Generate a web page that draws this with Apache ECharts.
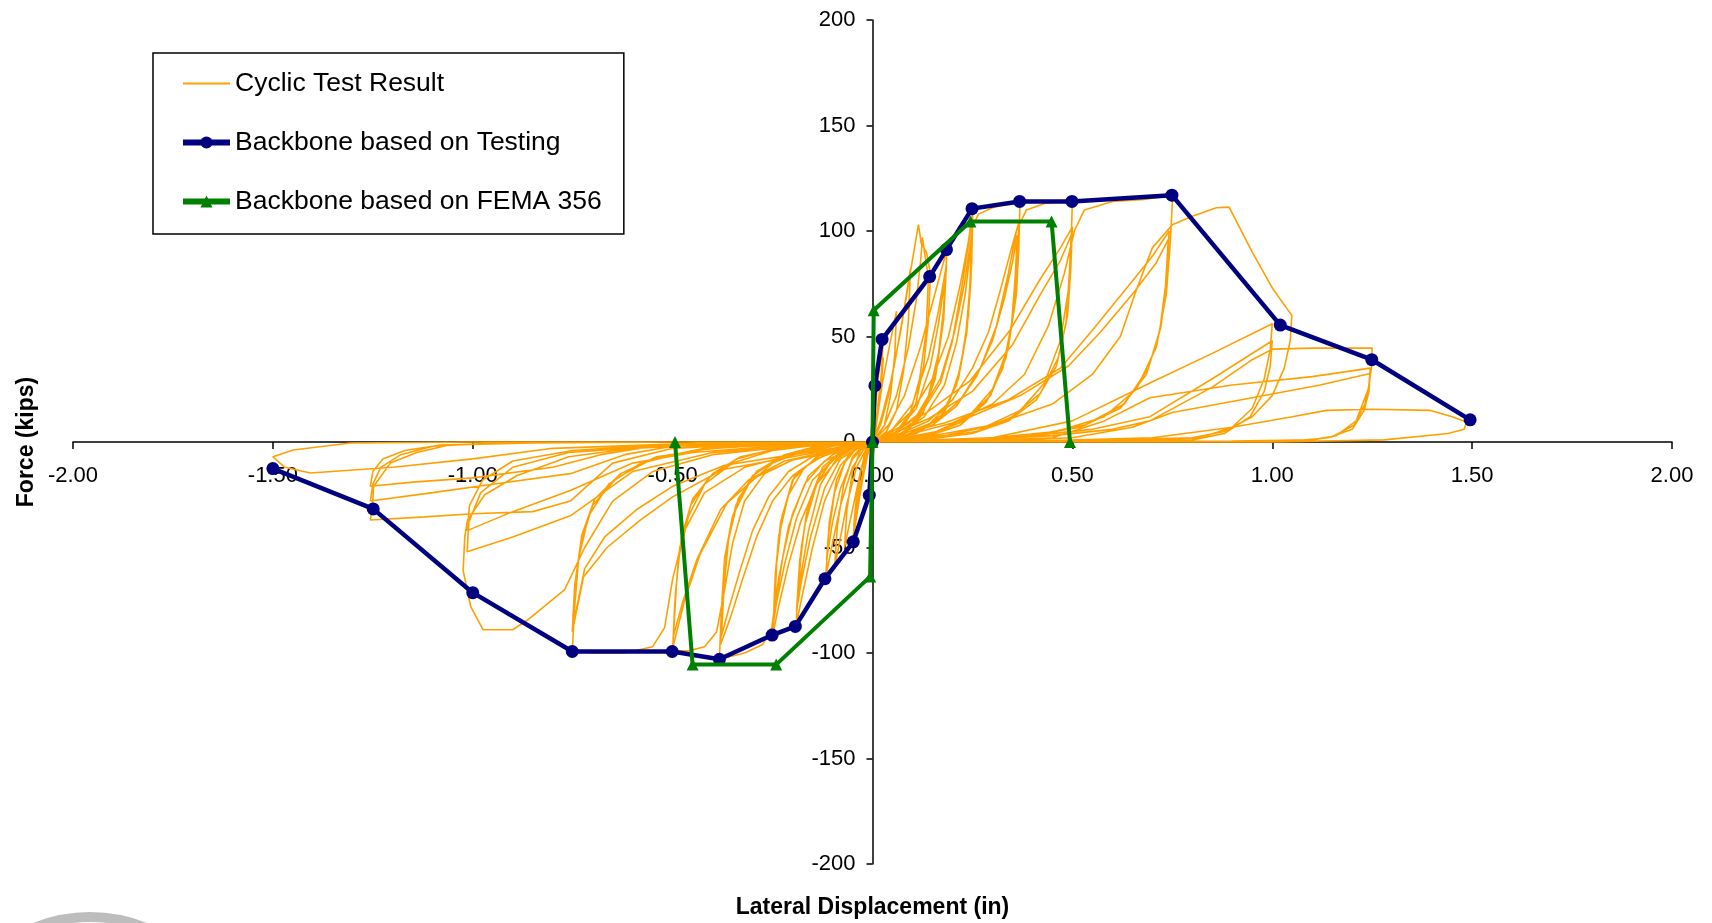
<!DOCTYPE html>
<html>
<head>
<meta charset="utf-8">
<script src="https://cdn.jsdelivr.net/npm/echarts@6/dist/echarts.min.js"></script>
<style>
html,body{margin:0;padding:0;background:#fff;}
#chart{width:1712px;height:923px;}
</style>
</head>
<body>
<div id="chart"></div>
<script>
// ---- Data ----
const xTicks = [-2.0, -1.5, -1.0, -0.5, 0, 0.5, 1.0, 1.5, 2.0];
const yTicks = [-200, -150, -100, -50, 0, 50, 100, 150, 200];

// Backbone based on Testing  [displacement (in), force (kips)]
const backboneTesting = [[-1.50,-12.6],[-1.249,-31.7],[-1.0,-71.4],[-0.751,-99.3],[-0.501,-99.3],[-0.383,-103],
  [-0.251,-91.5],[-0.193,-87.4],[-0.119,-64.8],[-0.048,-47.3],[-0.008,-25.2],[0,0],[0.006,26.7],[0.024,48.6],
  [0.143,78.4],[0.185,91.2],[0.249,110.6],[0.368,114],[0.499,114],[0.749,117],[1.02,55.4],[1.249,39],[1.495,10.5]];

// Backbone based on FEMA 356
const backboneFema = [[-0.494,0],[-0.45,-105.5],[-0.241,-105.5],[-0.006,-63.8],[0,0],[0.003,62.4],
  [0.245,104.5],[0.448,104.5],[0.494,0]];

// Cyclic test result, one array per loop
const a1 = [[0,0],[0.003,12],[0.008,27],[0.005,14],[0.001,3],[-0.003,-8],[-0.008,-25],[-0.005,-12],[-0.001,-2],[0,0]];
const b1 = [[0,0],[0.006,14],[0.014,30],[0.022,42],[0.027,49],[0.022,32],[0.012,12],[0.002,2],[-0.012,-6],[-0.025,-18],
  [-0.038,-33],[-0.049,-47],[-0.042,-30],[-0.028,-12],[-0.01,-2],[0,0]];
const b2 = [[0,0],[0.01,12],[0.02,28],[0.027,40],[0.02,22],[0.008,6],[-0.008,-2],[-0.022,-12],[-0.036,-26],[-0.047,-40],
  [-0.038,-22],[-0.02,-6],[0,0]];
const b3 = [[0,0],[0.01,10],[0.025,28],[0.045,48],[0.06,62],[0.056,42],[0.045,22],[0.03,8],[0.01,2],[-0.01,-3],
  [-0.03,-14],[-0.05,-32],[-0.07,-50],[-0.064,-32],[-0.05,-14],[-0.03,-4],[0,0]];
const b4 = [[0,0],[0.02,8],[0.04,22],[0.06,42],[0.08,64],[0.095,82],[0.09,58],[0.078,34],[0.06,15],[0.035,5],[0.01,1],
  [-0.015,-3],[-0.04,-12],[-0.065,-30],[-0.085,-50],[-0.095,-60],[-0.088,-40],[-0.072,-20],[-0.05,-7],[-0.02,-1],[0,0]];
const c1 = [[0,0],[0.02,10],[0.045,28],[0.07,52],[0.09,75],[0.105,92],[0.115,103],[0.122,94],[0.135,90],[0.145,80],
  [0.14,58],[0.128,36],[0.108,18],[0.08,8],[0.045,3],[0.01,1],[-0.02,-3],[-0.05,-12],[-0.08,-30],[-0.1,-48],[-0.117,-64],
  [-0.11,-44],[-0.095,-24],[-0.07,-10],[-0.04,-3],[0,0]];
const c2 = [[0,0],[0.03,8],[0.06,22],[0.09,45],[0.11,68],[0.12,85],[0.125,97],[0.13,90],[0.14,78],[0.134,52],[0.118,30],
  [0.095,14],[0.06,5],[0.02,1],[-0.02,-2],[-0.05,-8],[-0.08,-22],[-0.1,-38],[-0.115,-56],[-0.108,-38],[-0.09,-18],
  [-0.06,-6],[-0.02,-1],[0,0]];
const d1 = [[0,0],[0.04,8],[0.08,22],[0.12,45],[0.15,66],[0.17,80],[0.186,91],[0.18,66],[0.165,42],[0.14,22],[0.1,9],
  [0.05,3],[0,0],[-0.04,-3],[-0.08,-11],[-0.12,-28],[-0.15,-50],[-0.175,-72],[-0.191,-87],[-0.185,-64],[-0.17,-40],
  [-0.14,-20],[-0.1,-8],[-0.05,-2],[0,0]];
const d2 = [[0,0],[0.05,6],[0.1,18],[0.14,40],[0.165,62],[0.185,84],[0.178,58],[0.16,34],[0.13,16],[0.09,6],[0.04,1],
  [-0.03,-2],[-0.08,-8],[-0.12,-22],[-0.155,-45],[-0.178,-66],[-0.19,-80],[-0.182,-56],[-0.165,-34],[-0.13,-15],
  [-0.08,-5],[-0.03,-1],[0,0]];
const d3 = [[0,0],[0.06,5],[0.11,16],[0.145,36],[0.165,56],[0.182,78],[0.175,54],[0.157,30],[0.125,13],[0.08,4],[0.03,1],
  [-0.04,-2],[-0.09,-8],[-0.13,-20],[-0.16,-42],[-0.178,-62],[-0.186,-74],[-0.178,-50],[-0.16,-29],[-0.125,-12],
  [-0.07,-3],[-0.02,-0.5],[0,0]];
const e1 = [[0,0],[0.05,6],[0.1,15],[0.15,30],[0.19,50],[0.22,75],[0.24,95],[0.251,110],[0.248,85],[0.24,60],[0.22,35],
  [0.19,18],[0.14,8],[0.08,3],[0.02,1],[-0.04,-3],[-0.09,-9],[-0.14,-20],[-0.18,-38],[-0.21,-58],[-0.235,-78],[-0.249,-91],
  [-0.245,-70],[-0.235,-45],[-0.21,-25],[-0.17,-12],[-0.11,-5],[-0.05,-1],[0,0]];
const e2 = [[0,0],[0.06,5],[0.12,14],[0.17,30],[0.205,52],[0.23,75],[0.25,101],[0.246,76],[0.236,52],[0.215,30],
  [0.18,14],[0.12,5],[0.05,1],[-0.03,-1],[-0.09,-7],[-0.15,-18],[-0.19,-36],[-0.22,-58],[-0.24,-76],[-0.248,-86],
  [-0.243,-62],[-0.23,-38],[-0.2,-18],[-0.14,-7],[-0.07,-2],[0,0]];
const e3 = [[0,0],[0.07,4],[0.13,12],[0.18,27],[0.21,47],[0.232,70],[0.248,96],[0.243,72],[0.232,48],[0.21,27],
  [0.17,12],[0.11,4],[0.04,1],[-0.04,-1],[-0.1,-6],[-0.16,-16],[-0.2,-34],[-0.225,-55],[-0.238,-72],[-0.245,-82],
  [-0.24,-58],[-0.226,-35],[-0.195,-16],[-0.13,-6],[-0.06,-1],[0,0]];
const f1 = [[0,0],[0.06,5],[0.12,13],[0.17,28],[0.2,48],[0.225,75],[0.245,100],[0.265,108],[0.3,111],[0.34,113],[0.369,114],
  [0.366,92],[0.36,70],[0.34,45],[0.3,25],[0.24,12],[0.16,5],[0.08,2],[0,0],
  [-0.06,-4],[-0.12,-9],[-0.17,-20],[-0.21,-40],[-0.235,-65],[-0.252,-88],[-0.275,-96],[-0.32,-100],[-0.383,-103],
  [-0.378,-80],[-0.37,-55],[-0.35,-35],[-0.31,-20],[-0.25,-10],[-0.17,-4],[-0.08,-1],[0,0]];
const f2 = [[0,0],[0.07,4],[0.14,10],[0.2,20],[0.25,35],[0.29,52],[0.32,72],[0.345,90],[0.366,104],
  [0.362,84],[0.354,62],[0.334,40],[0.295,22],[0.23,10],[0.15,4],[0.07,1],[0,0],
  [-0.07,-3],[-0.14,-8],[-0.2,-16],[-0.25,-28],[-0.29,-45],[-0.325,-65],[-0.355,-83],[-0.38,-96],
  [-0.374,-72],[-0.364,-50],[-0.342,-30],[-0.3,-16],[-0.23,-7],[-0.15,-3],[-0.07,-1],[0,0]];
const f3 = [[0,0],[0.08,3],[0.15,8],[0.21,17],[0.26,31],[0.3,48],[0.33,68],[0.35,85],[0.362,98],
  [0.357,78],[0.348,56],[0.326,35],[0.285,19],[0.22,8],[0.14,3],[0.06,1],[0,0],
  [-0.08,-3],[-0.15,-7],[-0.21,-14],[-0.26,-26],[-0.3,-42],[-0.33,-60],[-0.358,-78],[-0.378,-92],
  [-0.371,-68],[-0.36,-46],[-0.336,-27],[-0.29,-14],[-0.22,-6],[-0.14,-2],[-0.06,-0.5],[0,0]];
const g1 = [[0,0],[0.08,4],[0.16,10],[0.22,20],[0.27,35],[0.31,55],[0.34,80],[0.36,100],[0.385,110],[0.43,113],[0.47,114],[0.5,114],
  [0.497,95],[0.49,72],[0.47,48],[0.43,28],[0.37,15],[0.28,7],[0.18,3],[0.08,1],[0,0],
  [-0.08,-3.5],[-0.2,-8.5],[-0.27,-15],[-0.32,-28],[-0.35,-48],[-0.37,-70],[-0.39,-90],[-0.42,-97],[-0.46,-99],[-0.5,-99],
  [-0.495,-78],[-0.485,-55],[-0.46,-35],[-0.42,-20],[-0.35,-10],[-0.25,-4],[-0.12,-1],[0,0]];
const g2 = [[0,0],[0.136,14],[0.244,29],[0.344,53],[0.419,77],[0.47,92],[0.5,102],
  [0.496,82],[0.488,60],[0.465,40],[0.42,23],[0.35,12],[0.26,5],[0.15,2],[0.05,0.5],[0,0],
  [-0.08,-4],[-0.2,-8.5],[-0.29,-16.5],[-0.364,-29],[-0.431,-53],[-0.47,-75],[-0.499,-97],
  [-0.493,-72],[-0.482,-50],[-0.455,-30],[-0.41,-17],[-0.34,-8],[-0.24,-3],[-0.12,-1],[0,0]];
const g3 = [[0,0],[0.14,11],[0.25,24],[0.35,46],[0.42,70],[0.47,86],[0.497,98],
  [0.492,78],[0.484,56],[0.46,36],[0.41,20],[0.34,10],[0.25,4],[0.14,1.5],[0.05,0.5],[0,0],
  [-0.1,-4],[-0.22,-9],[-0.31,-18],[-0.38,-32],[-0.44,-56],[-0.475,-76],[-0.498,-92],
  [-0.49,-66],[-0.478,-45],[-0.45,-27],[-0.4,-15],[-0.33,-7],[-0.23,-3],[-0.1,-1],[0,0]];
const h1 = [[0,0],[0.1,4],[0.2,9],[0.3,18],[0.38,32],[0.44,55],[0.48,80],[0.505,100],[0.53,110],[0.6,114],[0.68,115],[0.751,117],
  [0.745,95],[0.735,70],[0.71,45],[0.66,25],[0.58,12],[0.46,5],[0.3,2],[0.1,0.5],[0,0],
  [-0.1,-2],[-0.2,-6],[-0.32,-12],[-0.42,-24],[-0.47,-42],[-0.5,-65],[-0.52,-88],[-0.55,-97],[-0.62,-100],[-0.7,-100],[-0.751,-99],
  [-0.745,-78],[-0.735,-55],[-0.71,-35],[-0.66,-20],[-0.58,-10],[-0.45,-4],[-0.3,-1.5],[-0.1,0],[0,0]];
const h2 = [[0,0],[0.05,3],[0.18,9],[0.34,20],[0.47,35],[0.55,53],[0.636,73],[0.7,88],[0.742,100],
  [0.736,78],[0.722,55],[0.69,35],[0.63,18],[0.53,8],[0.4,3],[0.2,1],[0,0],
  [-0.2,-7],[-0.374,-13],[-0.5,-26],[-0.581,-37],[-0.664,-50],[-0.723,-64],[-0.751,-90],
  [-0.745,-68],[-0.73,-48],[-0.7,-30],[-0.64,-17],[-0.55,-8],[-0.42,-3],[-0.25,-1],[0,0]];
const h3 = [[0,0],[0.1,4],[0.22,10],[0.37,22],[0.49,36],[0.57,52],[0.65,70],[0.71,85],[0.74,96],
  [0.733,74],[0.718,52],[0.685,32],[0.62,16],[0.52,7],[0.38,2.5],[0.2,1],[0,0],
  [-0.2,-6],[-0.37,-11],[-0.5,-21],[-0.59,-32],[-0.67,-45],[-0.72,-60],[-0.748,-86],
  [-0.742,-64],[-0.727,-44],[-0.695,-27],[-0.63,-15],[-0.54,-7],[-0.4,-3],[-0.22,-1],[0,0]];
const i1 = [[0,0],[0.15,3],[0.3,8],[0.45,18],[0.55,32],[0.62,50],[0.66,72],[0.7,92],[0.75,103],[0.8,107],[0.86,111],[0.892,111.3],
  [0.95,90],[1.0,73],[1.049,60],
  [1.045,48],[1.03,35],[1.0,22],[0.95,12],[0.88,5],[0.8,2],[0.6,1],[0.3,0.5],[0,0],
  [-0.2,-2],[-0.4,-6],[-0.55,-14],[-0.65,-28],[-0.72,-50],[-0.77,-70],[-0.86,-84],[-0.9,-89],[-0.974,-89],[-1.005,-78],[-1.024,-61],
  [-1.02,-45],[-1.013,-37],[-0.97,-25],[-0.89,-16],[-0.76,-7],[-0.6,-3],[-0.4,-1],[-0.2,0],[0,0]];
const i2 = [[0,0],[0.15,1],[0.3,2],[0.5,10],[0.694,28],[0.85,42],[1.0,56],
  [0.995,44],[0.98,30],[0.95,16],[0.9,7],[0.82,2],[0.6,0.5],[0.3,0],[0,0],
  [-0.2,-2],[-0.4,-5],[-0.6,-14],[-0.756,-35],[-0.9,-45],[-1.014,-52],
  [-1.01,-38],[-0.98,-24],[-0.9,-12],[-0.76,-5],[-0.5,-1.5],[-0.25,0],[0,0]];
const i3 = [[0,0],[0.2,1],[0.4,3],[0.55,6],[0.694,12],[0.85,30],[1.0,48],
  [0.995,36],[0.98,24],[0.945,12],[0.88,4],[0.8,1],[0.55,0],[0.25,0],[0,0],
  [-0.25,-2],[-0.45,-5],[-0.6,-10],[-0.756,-23],[-0.9,-33],[-1.014,-42],
  [-1.008,-30],[-0.975,-18],[-0.9,-9],[-0.75,-4],[-0.5,-1],[-0.25,0],[0,0]];
const j1 = [[0,0],[0.25,1],[0.45,3],[0.6,6],[0.694,10],[0.85,26],[0.95,39],[1.0,44],[1.1,44.5],[1.18,44.5],[1.25,44.5],
  [1.248,35],[1.24,25],[1.21,10],[1.16,3],[1.1,1],[0.9,0.5],[0.5,0],[0,0],
  [-0.3,-1],[-0.5,-3],[-0.65,-10],[-0.756,-28],[-0.85,-33],[-1.0,-34],[-1.12,-35.5],[-1.256,-37],
  [-1.25,-28],[-1.248,-21],[-1.206,-10],[-1.14,-5],[-1.06,-1.4],[-0.85,-0.5],[-0.5,0],[0,0]];
const j2 = [[0,0],[0.25,0.5],[0.45,2],[0.58,10],[0.694,21],[0.9,27],[1.1,31],[1.245,35],
  [1.242,27],[1.232,18],[1.205,8],[1.15,2.5],[1.08,0.5],[0.8,0],[0.4,0],[0,0],
  [-0.3,-1],[-0.5,-2],[-0.62,-6],[-0.756,-15],[-0.95,-20],[-1.1,-24],[-1.256,-28],
  [-1.25,-20],[-1.23,-12],[-1.18,-6],[-1.1,-2],[-0.95,-0.5],[-0.5,0],[0,0]];
const j3 = [[0,0],[0.3,0.5],[0.5,2],[0.65,7],[0.75,14],[0.95,21],[1.12,27],[1.245,32.5],
  [1.242,24],[1.23,15],[1.2,6],[1.14,2],[1.05,0.5],[0.7,0],[0,0],
  [-0.3,-0.5],[-0.55,-2],[-0.68,-6],[-0.8,-12],[-1.0,-17],[-1.15,-19],[-1.256,-21],
  [-1.25,-14],[-1.225,-8],[-1.17,-4],[-1.08,-1.5],[-0.9,-0.5],[-0.5,0],[0,0]];
const k1 = [[0,0],[0.4,0.5],[0.7,2],[0.9,7],[1.05,12],[1.136,15],[1.25,15.5],[1.394,15],[1.45,12],[1.486,9.5],
  [1.48,6],[1.44,4],[1.28,1],[1.0,0],[0.5,0],[0,0],
  [-0.5,-1],[-0.8,-3],[-1.0,-8],[-1.2,-12],[-1.406,-14.7],[-1.47,-12],[-1.5,-7],
  [-1.449,-3.8],[-1.306,-0.5],[-1.0,0],[-0.5,0],[0,0]];

const cyclicLoops = [a1,b1,b2,b3,b4,c1,c2,d1,d2,d3,e1,e2,e3,f1,f2,f3,g1,g2,g3,h1,h2,h3,i1,i2,i3,j1,j2,j3,k1];

// ---- Chart ----
const FONT = '"Liberation Sans", Arial, Helvetica, sans-serif';
const cyclicData = [].concat(...cyclicLoops);

const GRID = {left: 73, right: 40, top: 20, bottom: 59};
const W = 1712, H = 923;
const plotW = W - GRID.left - GRID.right;
const plotH = H - GRID.top - GRID.bottom;
// offsets that place the axes where the other axis is zero
const xAxisOffset = -plotH * (0 - yTicks[0]) / (yTicks[yTicks.length - 1] - yTicks[0]);
const yAxisOffset = -plotW * (0 - xTicks[0]) / (xTicks[xTicks.length - 1] - xTicks[0]);

const chart = echarts.init(document.getElementById('chart'), null, {renderer: 'canvas'});
chart.setOption({
  animation: false,
  backgroundColor: '#ffffff',
  textStyle: {fontFamily: FONT, color: '#000'},
  grid: Object.assign({containLabel: false, outerBoundsMode: 'none'}, GRID),
  legend: {
    orient: 'vertical',
    left: 153, top: 53,
    padding: [15, 22, 17, 27],
    borderColor: '#000', borderWidth: 1.5,
    backgroundColor: '#fff',
    itemWidth: 47, itemHeight: 15, itemGap: 28,
    textStyle: {fontFamily: FONT, fontSize: 26.5, color: '#000', lineHeight: 31},
    data: [
      {name: 'Cyclic Test Result', icon: 'path://M0,0L100,0L100,4L0,4Z', itemStyle: {color: '#FFA000'}},
      {name: 'Backbone based on Testing', lineStyle: {width: 6}},
      {name: 'Backbone based on FEMA 356', lineStyle: {width: 6}}
    ]
  },
  xAxis: {
    type: 'value', min: xTicks[0], max: xTicks[xTicks.length - 1], interval: 0.5,
    position: 'bottom', offset: xAxisOffset,
    name: 'Lateral Displacement (in)', nameLocation: 'middle', nameGap: 454, nameMoveOverlap: false,
    nameTextStyle: {fontFamily: FONT, fontSize: 23, fontWeight: 'bold', color: '#000'},
    axisLine: {onZero: false, lineStyle: {color: '#000', width: 1.5}},
    axisTick: {show: true, inside: false, length: 7, lineStyle: {color: '#000', width: 1.5}},
    axisLabel: {fontFamily: FONT, fontSize: 22, color: '#000', margin: 23,
      formatter: v => v.toFixed(2)},
    splitLine: {show: false}
  },
  yAxis: {
    type: 'value', min: yTicks[0], max: yTicks[yTicks.length - 1], interval: 50,
    position: 'left', offset: yAxisOffset,
    name: 'Force (kips)', nameLocation: 'middle', nameGap: 834, nameMoveOverlap: false,
    nameTextStyle: {fontFamily: FONT, fontSize: 23, fontWeight: 'bold', color: '#000'},
    axisLine: {onZero: false, lineStyle: {color: '#000', width: 1.5}},
    axisTick: {show: true, inside: false, length: 6, lineStyle: {color: '#000', width: 1.5}},
    axisLabel: {fontFamily: FONT, fontSize: 22, color: '#000', margin: 17,
      formatter: v => String(v)},
    splitLine: {show: false}
  },
  graphic: [{
    type: 'circle', silent: true, z: -1,
    shape: {cx: 90, cy: 1067, r: 150},
    style: {fill: 'transparent', stroke: '#bdbdbd', lineWidth: 10}
  }],
  series: [
    {
      name: 'Cyclic Test Result', type: 'line', data: cyclicData,
      symbol: 'none', showSymbol: false, sampling: null, z: 2,
      lineStyle: {color: '#FFA000', width: 1.6},
      itemStyle: {color: '#FFA000'}
    },
    {
      name: 'Backbone based on Testing', type: 'line', data: backboneTesting,
      symbol: 'circle', symbolSize: 13, z: 3,
      lineStyle: {color: '#000080', width: 4.5},
      itemStyle: {color: '#000080'}
    },
    {
      name: 'Backbone based on FEMA 356', type: 'line', data: backboneFema,
      symbol: 'triangle', symbolSize: 12, z: 4,
      lineStyle: {color: '#008000', width: 4},
      itemStyle: {color: '#008000'}
    }
  ]
});
</script>
</body>
</html>
